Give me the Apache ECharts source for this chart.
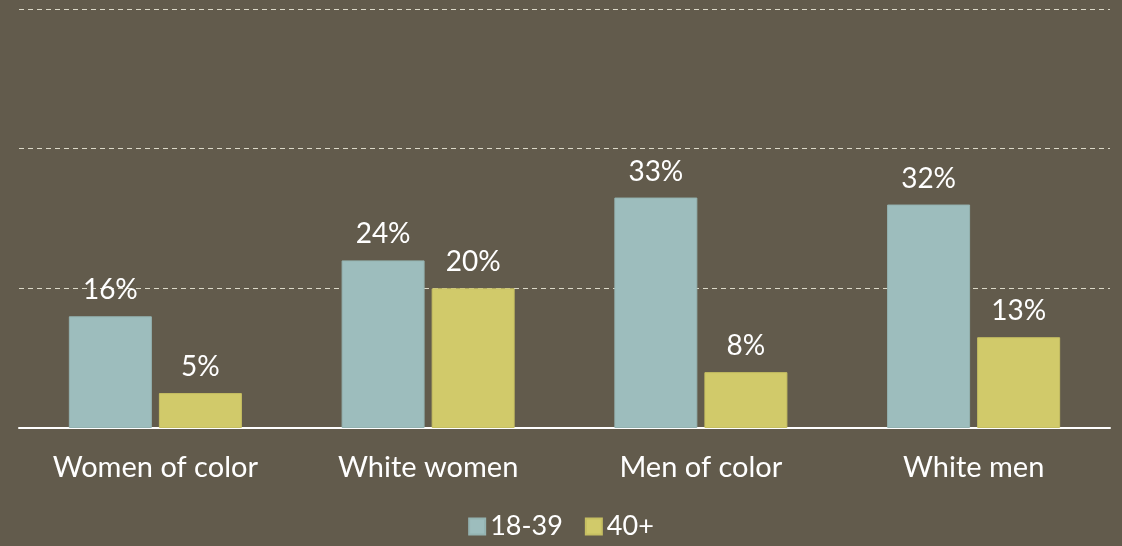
<!DOCTYPE html>
<html><head><meta charset="utf-8">
<script src="https://cdn.jsdelivr.net/npm/echarts@6/dist/echarts.min.js"></script>
<style>html,body{margin:0;padding:0;background:#625b4c}#c{width:1122px;height:546px}</style>
</head><body><div id="c"></div>
<script>
const categories = ["Women of color", "White women", "Men of color", "White men"];
const seriesNames = ["18-39", "40+"];
const young = [16, 24, 33, 32];
const older = [5, 20, 8, 13];
const colors = ["#9dbdbd", "#d1ca6a"];
const font = "Lato, 'Open Sans', sans-serif";

const chart = echarts.init(document.getElementById('c'));
const labelCfg = {show: true, position: 'top', distance: 12, color: '#ffffff', fontSize: 28, fontFamily: font, formatter: '{c}%'};
chart.setOption({
  backgroundColor: '#625b4c',
  animation: false,
  grid: {left: 19, right: 12, top: 9, bottom: 118, containLabel: false},
  legend: {
    bottom: 1, left: 'center', itemWidth: 16, itemHeight: 16, itemGap: 22,
    textStyle: {color: '#ffffff', fontSize: 27, fontFamily: font, padding: [0,0,0,0]},
    icon: 'rect', data: seriesNames
  },
  xAxis: {
    type: 'category', data: categories,
    axisLine: {lineStyle: {color: '#ffffff', width: 2}},
    axisTick: {show: false},
    axisLabel: {color: '#ffffff', fontSize: 29, fontFamily: font, margin: 25}
  },
  yAxis: {
    type: 'value', min: 0, max: 60, interval: 20,
    axisLabel: {show: false}, axisLine: {show: false}, axisTick: {show: false},
    splitLine: {lineStyle: {color: '#dcd9c8', type: [5, 4], width: 1}}
  },
  series: [
    {name: seriesNames[0], type: 'bar', data: young, barWidth: 83, barGap: '8.5%',
     itemStyle: {color: colors[0], borderColor: '#94b3b1', borderWidth: 1}, label: labelCfg},
    {name: seriesNames[1], type: 'bar', data: older, barWidth: 83,
     itemStyle: {color: colors[1], borderColor: '#c6bf62', borderWidth: 1}, label: labelCfg}
  ]
});
</script></body></html>
